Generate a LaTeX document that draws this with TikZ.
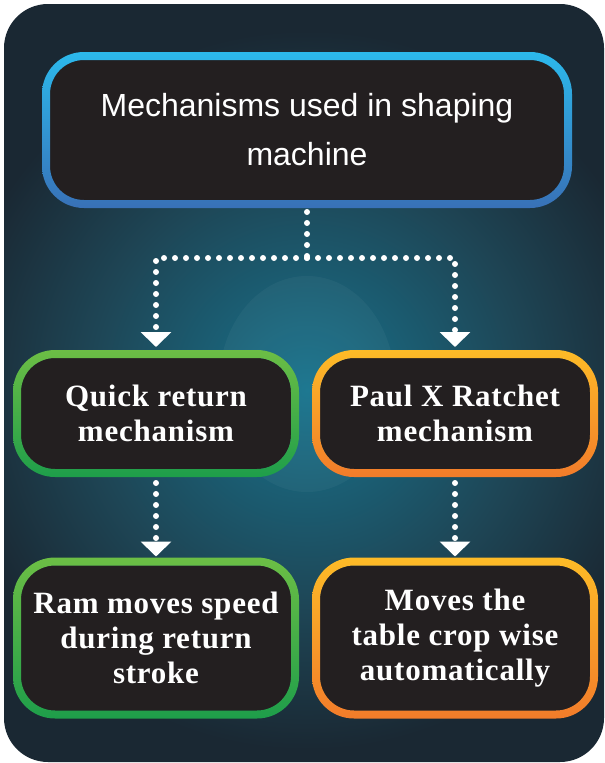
\documentclass[tikz,border=0pt]{standalone}
\usepackage{fontspec}
\setmainfont{Liberation Serif}
\newfontfamily\headfont{Liberation Sans}
\newfontfamily\boxfont[LetterSpace=2.5]{Liberation Serif}
\usetikzlibrary{arrows.meta}
\definecolor{bgdark}{HTML}{1A2833}
\definecolor{glowA}{HTML}{15738D}
\definecolor{glowB}{HTML}{1A6177}
\definecolor{glowC}{HTML}{1E4656}
\definecolor{boxfill}{HTML}{231F20}
\definecolor{skyA}{HTML}{2CB9EC}
\definecolor{skyB}{HTML}{3871B7}
\definecolor{leafA}{HTML}{6CBE45}
\definecolor{leafB}{HTML}{1E9E4A}
\definecolor{sunA}{HTML}{FDBB27}
\definecolor{sunB}{HTML}{F27C2A}
\pgfdeclareradialshading{glow}{\pgfpointorigin}{color(0bp)=(glowA); color(6bp)=(glowB); color(15bp)=(glowC); color(25bp)=(bgdark); color(50bp)=(bgdark)}
\begin{document}
\begin{tikzpicture}[x=1pt,y=-1pt,
  box/.style={fill=boxfill,rounded corners=34pt,inner sep=0pt,outer sep=0pt,align=center,text=white,
    minimum width=270pt,font=\boxfont\bfseries\fontsize{31}{35}\selectfont},
  headbox/.style={box,font=\headfont\fontsize{32}{49}\selectfont},
  dots/.style={white,line width=6pt,line cap=round,dash pattern=on 0pt off 11pt},
  tip/.style={-{Triangle[width=30pt,length=15pt]}}]
\useasboundingbox (0,0) rectangle (605,763);
\fill[white] (0,0) rectangle (605,763);
\fill[bgdark,rounded corners=44pt] (4,4) rectangle (604,762);
\begin{scope}
\clip[rounded corners=44pt] (4,4) rectangle (604,762);
\shade[shading=glow] (307,390) circle (360pt);
\fill[white,opacity=.04] (307,384) ellipse (88pt and 108pt);
\end{scope}
\node[headbox,minimum width=514pt,minimum height=140pt] (top) at (307,130) {Mechanisms used in shaping\\machine};
\node[box,minimum height=111pt] (quick) at (156,413.5) {Quick return\\mechanism};
\node[box,minimum height=111pt] (paul) at (455,413.5) {Paul X Ratchet\\mechanism};
\node[box,minimum height=145pt] (ram) at (156,638) {Ram moves speed\\during return\\stroke};
\node[box,minimum height=145pt] (moves) at (455,638) {Moves the\\table crop wise\\automatically};
\foreach \n/\ca/\cb in {top/skyA/skyB,quick/leafA/leafB,ram/leafA/leafB,paul/sunA/sunB,moves/sunA/sunB}
  \shade[top color=\ca,bottom color=\cb,even odd rule,rounded corners=42pt]
    ([shift={(-8,-8)}]\n.north west) rectangle ([shift={(8,8)}]\n.south east)
    [rounded corners=34pt] (\n.north west) rectangle (\n.south east);
\coordinate (split) at (307,258);
\draw[dots,shorten <=12pt] (top.south) -- (split);
\draw[dots,tip,shorten >=11pt] (split) -| (quick.north);
\draw[dots,tip,shorten >=11pt] (split) -| (paul.north);
\draw[dots,tip,shorten <=14pt,shorten >=9pt] (quick.south) -- (ram.north);
\draw[dots,tip,shorten <=14pt,shorten >=9pt] (paul.south) -- (moves.north);
\end{tikzpicture}
\end{document}
